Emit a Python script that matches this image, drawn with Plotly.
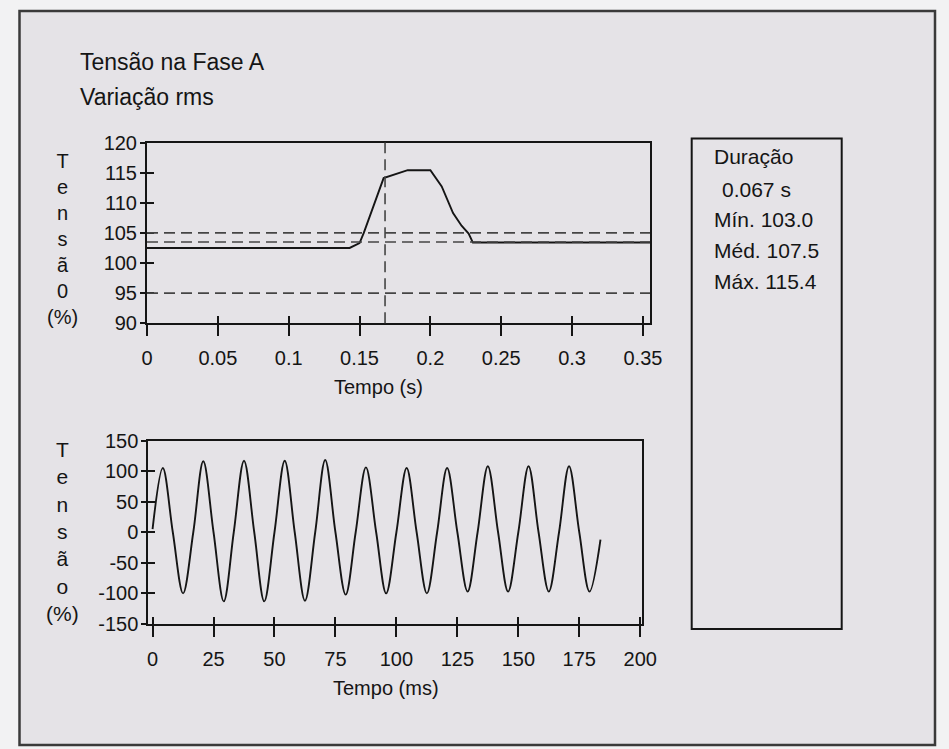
import plotly.graph_objects as go

W, H = 949, 749

# ---------------- data ----------------
title_lines = ["Tensão na Fase A", "Variação rms"]
info_lines = ["Duração", "0.067 s", "Mín. 103.0", "Méd. 107.5", "Máx. 115.4"]

# rms variation (top panel)
rms_time_s = [0.0, 0.143, 0.150, 0.153, 0.167, 0.173, 0.184, 0.200, 0.208,
              0.216, 0.222, 0.227, 0.230, 0.355]
rms_volt_pct = [102.5, 102.5, 103.3, 105.0, 114.1, 114.6, 115.4, 115.4, 112.7,
                108.3, 106.2, 104.9, 103.4, 103.4]
rms_limits = [105.0, 103.5, 95.0]
event_time_s = 0.168
rms_xticks = [0, 0.05, 0.1, 0.15, 0.2, 0.25, 0.3, 0.35]
rms_xticktext = ["0", "0.05", "0.1", "0.15", "0.2", "0.25", "0.3", "0.35"]
rms_yticks = [90, 95, 100, 105, 110, 115, 120]

# instantaneous waveform (bottom panel)
wave_time_ms = [0.0, 4.2, 8.3, 12.5, 16.7, 20.8, 25.0, 29.2, 33.3, 37.5, 41.7,
                45.8, 50.0, 54.2, 58.3, 62.5, 66.7, 70.8, 75.0, 79.2, 83.3,
                87.5, 91.7, 95.8, 100.0, 104.2, 108.3, 112.5, 116.7, 120.8,
                125.0, 129.2, 133.3, 137.5, 141.7, 145.8, 150.0, 154.2, 158.3,
                162.5, 166.7, 170.8, 175.0, 179.2, 183.7]
wave_volt_pct = [5, 105, 0, -100, 0, 116, 0, -113, 0, 117, 0,
                 -113, 0, 117, 0, -112, 0, 118, 0, -102, 0,
                 106, 0, -100, 0, 105, 0, -100, 0, 105,
                 0, -97, 0, 108, 0, -97, 0, 108, 0,
                 -97, 0, 108, 0, -97, -12]
wave_xticks = [0, 25, 50, 75, 100, 125, 150, 175, 200]
wave_yticks = [-150, -100, -50, 0, 50, 100, 150]
wave_yticktext = ["-150", "-100", "-50", "0", "50", "100", "150"]

# ---------------- style ----------------
FONT = "Liberation Sans, Arial, Helvetica, sans-serif"
INK = "#151515"
DASH_COL = "#454545"
INNER_BG = "#e5e3e7"
OUTER_BG = "#f2f2f3"


def fx(p):
    return p / W


def fy(p):
    return 1 - p / H


tickfont = dict(family=FONT, size=20, color=INK)
base_axis = dict(showgrid=False, zeroline=False, showline=True, linecolor=INK,
                 linewidth=2, mirror=True, ticks="outside", tickcolor=INK,
                 tickwidth=1.5, tickfont=tickfont, fixedrange=True,
                 automargin=False)
ghost_axis = dict(showgrid=False, zeroline=False, showline=False,
                  ticks="inside", tickcolor=INK, tickwidth=1.5, ticklen=7,
                  showticklabels=False, fixedrange=True, automargin=False)

fig = go.Figure()

fig.add_trace(go.Scatter(x=rms_time_s, y=rms_volt_pct, mode="lines",
                         line=dict(color=INK, width=1.9),
                         xaxis="x", yaxis="y", hoverinfo="skip"))
fig.add_trace(go.Scatter(x=wave_time_ms, y=wave_volt_pct, mode="lines",
                         line=dict(color=INK, width=1.9, shape="spline",
                                   smoothing=1.0),
                         xaxis="x2", yaxis="y2", hoverinfo="skip"))

# invisible companions so the overlay axes (inner half of crossing ticks) exist
for xa, ya, xs, ys in [("x3", "y", rms_time_s, rms_volt_pct),
                       ("x", "y3", rms_time_s, rms_volt_pct),
                       ("x4", "y2", wave_time_ms, wave_volt_pct),
                       ("x2", "y4", wave_time_ms, wave_volt_pct)]:
    fig.add_trace(go.Scatter(x=xs, y=ys, xaxis=xa, yaxis=ya, mode="lines",
                             line=dict(width=0, color="rgba(0,0,0,0)"),
                             hoverinfo="skip", showlegend=False))

top_x_dom = [fx(147), fx(650)]
top_y_dom = [fy(323.3), fy(142.5)]
bot_x_dom = [fx(148.3), fx(641.7)]
bot_y_dom = [fy(624), fy(440.5)]
top_xr = [0, 0.355]
top_yr = [90, 120]
bot_xr = [-1.75, 200.6]
bot_yr = [-150, 150]

fig.update_layout(
    width=W, height=H, autosize=False,
    margin=dict(l=0, r=0, t=0, b=0, pad=0, autoexpand=False),
    paper_bgcolor=OUTER_BG, plot_bgcolor="rgba(0,0,0,0)",
    showlegend=False,
    font=dict(family=FONT, color=INK),
    xaxis=dict(base_axis, domain=top_x_dom, range=top_xr, anchor="y",
               tickvals=rms_xticks, ticktext=rms_xticktext, ticklen=11,
               ticklabelstandoff=5),
    yaxis=dict(base_axis, domain=top_y_dom, range=top_yr, anchor="x",
               tickvals=rms_yticks, ticklen=5, ticklabelstandoff=-1),
    xaxis3=dict(ghost_axis, overlaying="x", anchor="y", range=top_xr,
                tickvals=rms_xticks),
    yaxis3=dict(ghost_axis, overlaying="y", anchor="x", side="left",
                range=top_yr, tickvals=rms_yticks),
    xaxis2=dict(base_axis, domain=bot_x_dom, range=bot_xr, anchor="y2",
                tickvals=wave_xticks, ticklen=11, ticklabelstandoff=5),
    yaxis2=dict(base_axis, domain=bot_y_dom, range=bot_yr, anchor="x2",
                tickvals=wave_yticks, ticktext=wave_yticktext, ticklen=5,
                ticklabelstandoff=-1),
    xaxis4=dict(ghost_axis, overlaying="x2", anchor="y2", range=bot_xr,
                tickvals=wave_xticks),
    yaxis4=dict(ghost_axis, overlaying="y2", anchor="x2", side="left",
                range=bot_yr, tickvals=wave_yticks),
)

# outer frame and info box
fig.add_shape(type="rect", xref="paper", yref="paper",
              x0=fx(19.5), x1=fx(935), y0=fy(745), y1=fy(11),
              line=dict(color="#3a3a3a", width=2.5), fillcolor=INNER_BG,
              layer="below")
fig.add_shape(type="rect", xref="paper", yref="paper",
              x0=fx(691.7), x1=fx(841.7), y0=fy(629), y1=fy(138.5),
              line=dict(color=INK, width=2), layer="above")

# limit lines and event marker
for lvl in rms_limits:
    fig.add_hline(y=lvl, line=dict(color=DASH_COL, width=1.6, dash="11px,6px"))
fig.add_vline(x=event_time_s, line=dict(color=DASH_COL, width=1.6,
                                         dash="11px,6px"))

# texts
ann = []
for txt, yc in zip(title_lines, [62, 97]):
    ann.append(dict(text=txt, x=fx(78), y=fy(yc), xanchor="left",
                    yanchor="middle", font=dict(size=23)))
for txt, xl, yc in zip(info_lines, [711.7, 720, 711.7, 711.7, 711.7],
                       [157, 190, 220, 250, 281.7]):
    ann.append(dict(text=txt, x=fx(xl), y=fy(yc), xanchor="left",
                    yanchor="middle", font=dict(size=21)))
ann.append(dict(text="Tempo (s)", x=fx(378), y=fy(387), xanchor="center",
                yanchor="middle", font=dict(size=20)))
ann.append(dict(text="Tempo (ms)", x=fx(386), y=fy(688), xanchor="center",
                yanchor="middle", font=dict(size=20)))
ann.append(dict(text="T<br>e<br>n<br>s<br>ã<br>0<br>(%)", x=fx(63),
                y=fy(239), xanchor="center", yanchor="middle",
                font=dict(size=20), align="center"))
ann.append(dict(text="T<br>e<br>n<br>s<br>ã<br>o<br>(%)", x=fx(63),
                y=fy(531), xanchor="center", yanchor="middle",
                font=dict(size=21), align="center"))
for a in ann:
    a.update(xref="paper", yref="paper", showarrow=False)
    a["font"].update(family=FONT, color=INK)
fig.update_layout(annotations=ann)

fig.write_html("out.html", config=dict(displayModeBar=False))
